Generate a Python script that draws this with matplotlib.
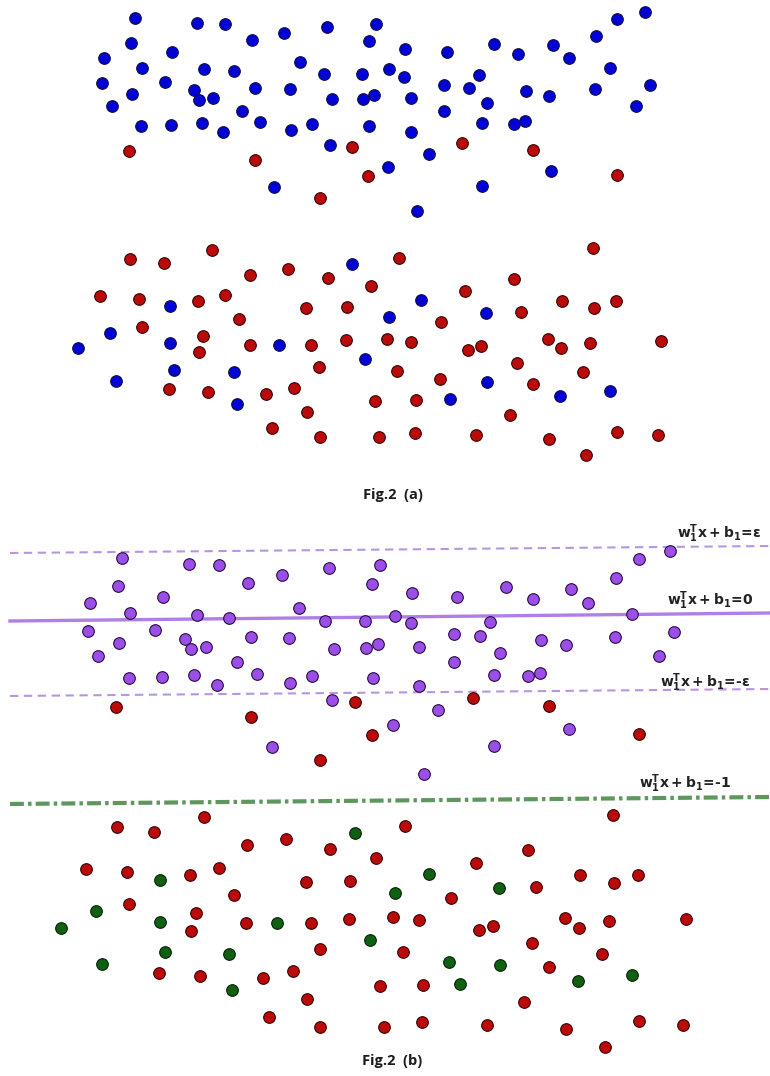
import matplotlib
matplotlib.use("Agg")
import matplotlib.pyplot as plt

plt.rcParams['lines.scale_dashes'] = False
plt.rcParams['mathtext.fontset'] = 'dejavusans'
plt.rcParams['mathtext.default'] = 'bf'

# ---------------- Fig.2 (a) data (pixel-like coordinates) ----------------
a_blue_x = [135, 197, 225, 252, 284, 327, 376, 131, 172, 369, 405, 104, 142, 204, 234, 300, 324, 362,
            389, 404, 102, 132, 165, 194, 199, 213, 255, 290, 332, 363, 374, 411, 112, 242, 260, 141,
            171, 202, 223, 291, 312, 369, 411, 330, 388, 274,
            645, 617, 596, 447, 494, 518, 553, 569, 610, 444, 469, 479, 526, 549, 595, 650, 444, 487,
            636, 482, 514, 525, 429, 551, 482, 417,
            352, 170, 389, 110, 78, 170, 279, 365, 174, 116, 234, 237, 421, 486, 487, 450, 560, 610]
a_blue_y = [18, 23, 24, 40, 33, 27, 24, 43, 52, 41, 49, 58, 68, 69, 71, 62, 74, 74,
            69, 77, 83, 94, 82, 90, 100, 98, 88, 89, 99, 99, 95, 98, 106, 111, 122, 126,
            125, 123, 132, 130, 124, 126, 132, 145, 167, 187,
            12, 19, 36, 52, 44, 54, 45, 58, 68, 85, 88, 75, 91, 96, 89, 85, 111, 103,
            106, 123, 124, 121, 154, 171, 186, 211,
            264, 306, 317, 333, 348, 343, 345, 359, 370, 381, 372, 404, 300, 313, 382, 399, 396, 391]

a_red_x = [129, 255, 352, 368, 320, 462, 533, 617,
           130, 164, 212, 250, 288, 328, 399, 371, 100, 139, 198, 225, 306, 347, 239, 142, 203, 199,
           250, 311, 346, 387, 411, 319, 397, 169, 208, 266, 294, 375, 307, 272, 320, 379,
           593, 514, 465, 562, 594, 616, 521, 441, 468, 481, 548, 561, 590, 661, 517, 440, 533, 583,
           416, 510, 415, 476, 549, 617, 658, 586]
a_red_y = [151, 160, 147, 176, 198, 143, 150, 175,
           259, 263, 250, 275, 269, 278, 258, 286, 296, 299, 301, 295, 308, 307, 319, 327, 336, 352,
           345, 345, 340, 339, 342, 367, 371, 389, 392, 394, 388, 401, 412, 428, 437, 437,
           248, 279, 291, 301, 308, 301, 312, 322, 350, 346, 339, 348, 343, 341, 363, 379, 384, 372,
           400, 415, 433, 435, 439, 432, 435, 455]

# ---------------- Fig.2 (b) data ----------------
b_purple_x = [122, 189, 219, 248, 282, 329, 380, 118, 163, 372, 90, 130, 197, 229, 299, 325, 365, 395,
              88, 119, 155, 185, 191, 206, 251, 289, 334, 366, 378, 98, 237, 129, 162, 194, 217, 257,
              290, 312, 373, 332, 393, 272,
              670, 639, 616, 412, 457, 506, 533, 571, 588, 632, 411, 490, 454, 480, 541, 566, 615, 674,
              419, 500, 454, 659, 494, 528, 540, 419, 438, 569, 494, 424]
b_purple_y = [558, 564, 565, 583, 575, 568, 565, 586, 597, 584, 603, 613, 615, 618, 608, 621, 621, 616,
              631, 643, 630, 639, 649, 647, 637, 638, 649, 648, 644, 656, 662, 678, 677, 675, 685, 674,
              683, 676, 678, 700, 725, 747,
              551, 559, 578, 593, 597, 587, 599, 589, 603, 614, 623, 622, 634, 636, 640, 645, 637, 632,
              647, 653, 662, 656, 675, 676, 673, 686, 710, 729, 746, 774]

b_red_x = [116, 251, 355, 372, 320, 473, 549, 639,
           204, 117, 154, 247, 286, 330, 405, 376, 86, 127, 190, 219, 306, 350, 234, 129, 196, 191,
           246, 311, 349, 393, 320, 403, 159, 200, 263, 293, 380, 307, 269, 320, 384,
           613, 528, 476, 580, 614, 638, 536, 451, 419, 479, 493, 565, 579, 609, 686, 532, 602, 549,
           423, 524, 422, 487, 566, 639, 683, 605]
b_red_y = [707, 717, 702, 735, 760, 698, 706, 734,
           817, 827, 832, 845, 839, 849, 826, 858, 869, 872, 875, 868, 882, 881, 895, 904, 913, 931,
           923, 923, 919, 917, 949, 952, 973, 976, 978, 971, 986, 999, 1017, 1027, 1027,
           815, 850, 863, 875, 883, 875, 887, 898, 920, 930, 926, 918, 928, 921, 919, 943, 954, 967,
           985, 1002, 1022, 1025, 1029, 1021, 1025, 1047]

b_green_x = [355, 160, 96, 61, 160, 277, 395, 165, 229, 370, 102, 232, 429, 499, 449, 500, 460, 578, 632]
b_green_y = [833, 880, 911, 928, 922, 923, 893, 952, 954, 940, 964, 990, 874, 888, 962, 965, 984, 981, 975]

# boundary lines (x ends, y ends)
line_x = [10, 770]
eps_upper_y = [553, 546]
zero_y = [621, 613]
eps_lower_y = [696, 689]
minus_one_y = [804, 797]

labels = [r'$w_1^T x+b_1\!=\!\varepsilon$', r'$w_1^T x+b_1\!=\!0$',
          '$w_1^T x+b_1\\!=\\!$\u2010$\\varepsilon$', '$w_1^T x+b_1\\!=\\!$\u20101']
captions = ['Fig.2  (a)', 'Fig.2  (b)']

fig = plt.figure(figsize=(7.7, 10.76), dpi=100)
ax = fig.add_axes([0, 0, 1, 1])
ax.set_xlim(0, 770)
ax.set_ylim(1076, 0)
ax.axis('off')

ms = 70
ew = 0.8
ax.scatter(a_blue_x, a_blue_y, s=ms, c='#0000d8', edgecolors='#101040', linewidths=ew, zorder=3)
ax.scatter(a_red_x, a_red_y, s=ms, c='#bb0a0a', edgecolors='#3a0000', linewidths=ew, zorder=3)

ax.plot(line_x, eps_upper_y, color='#b795e3', lw=1.5, dashes=(6, 4), zorder=2)
ax.plot(line_x, zero_y, color='#b07ee6', lw=2.4, zorder=2)
ax.plot(line_x, eps_lower_y, color='#b795e3', lw=1.5, dashes=(6, 4), zorder=2)
ax.plot(line_x, minus_one_y, color='#5e975e', lw=3.0, dashes=(10, 3, 2.5, 3), zorder=2)

ax.scatter(b_purple_x, b_purple_y, s=ms, c='#9b4fe6', edgecolors='#2a0a4a', linewidths=ew, zorder=3)
ax.scatter(b_red_x, b_red_y, s=ms, c='#bb0a0a', edgecolors='#3a0000', linewidths=ew, zorder=3)
ax.scatter(b_green_x, b_green_y, s=ms, c='#0f6010', edgecolors='#062006', linewidths=ew, zorder=3)

lab_pos = [(677, 538), (667, 605), (660, 687), (639, 788)]
for (lx, ly), t in zip(lab_pos, labels):
    ax.text(lx, ly, t, fontsize=10, fontweight='bold', color='#222222', ha='left', va='baseline',
            zorder=4)

ax.text(393, 495, captions[0], fontsize=10.5, fontweight='bold', family='Open Sans',
        ha='center', va='center', color='#1a1a1a')
ax.text(392, 1061, captions[1], fontsize=10.5, fontweight='bold', family='Open Sans',
        ha='center', va='center', color='#1a1a1a')

fig.savefig('out.png', dpi=100, facecolor='white')
